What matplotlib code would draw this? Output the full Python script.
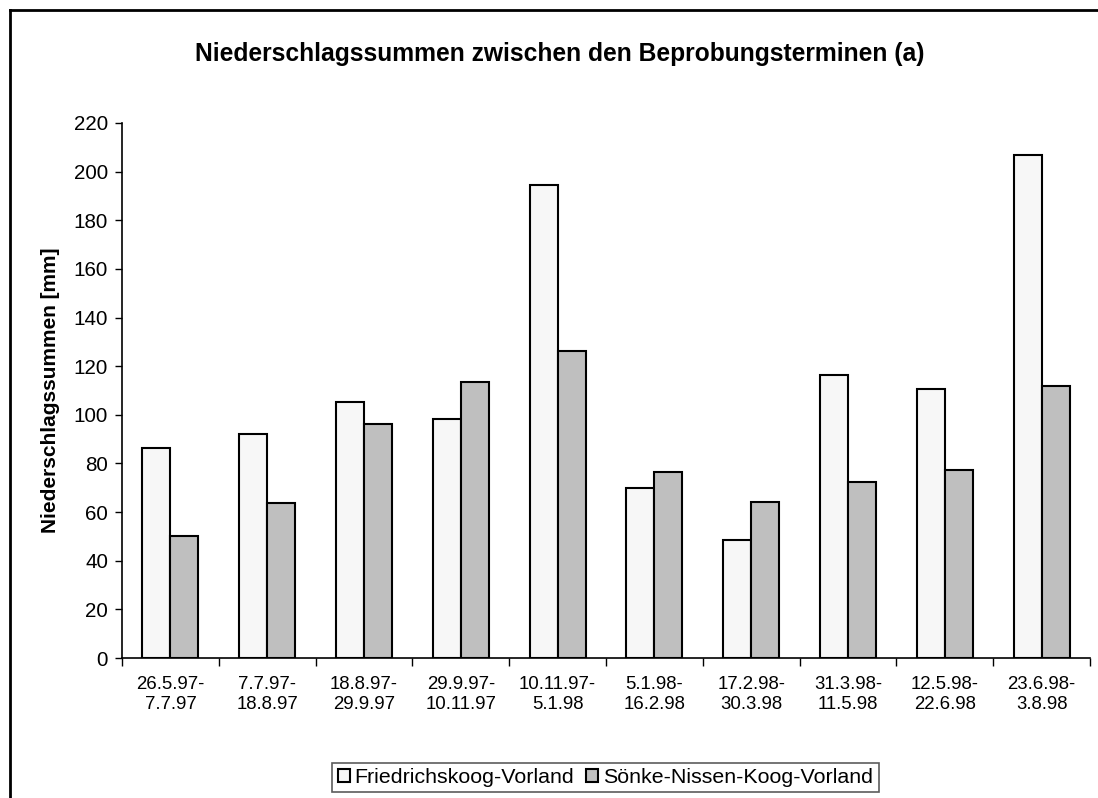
import numpy as np
import matplotlib
matplotlib.use('Agg')
import matplotlib.pyplot as plt
from matplotlib.lines import Line2D
from matplotlib.ticker import FixedLocator, NullFormatter

plt.rcParams['font.family'] = ['Liberation Sans', 'DejaVu Sans']

# intervals between sampling dates
periods = ['26.5.97-\n7.7.97', '7.7.97-\n18.8.97', '18.8.97-\n29.9.97', '29.9.97-\n10.11.97',
           '10.11.97-\n5.1.98', '5.1.98-\n16.2.98', '17.2.98-\n30.3.98', '31.3.98-\n11.5.98',
           '12.5.98-\n22.6.98', '23.6.98-\n3.8.98']
friedrichskoog = [86.4, 92.2, 105.2, 98.2, 194.3, 70.0, 48.6, 116.3, 110.8, 206.8]
soenke_nissen = [50.2, 63.6, 96.2, 113.5, 126.1, 76.6, 64.1, 72.3, 77.2, 111.8]
series_names = ['Friedrichskoog-Vorland', 'Sönke-Nissen-Koog-Vorland']

fig = plt.figure(figsize=(10.98, 7.98), dpi=100)
ax = fig.add_axes([122 / 1098, 1 - 658 / 798, 968 / 1098, 535 / 798])

x = np.arange(len(periods))
w = 0.29
ax.bar(x - w / 2, friedrichskoog, width=w, color='#f7f7f7', edgecolor='black',
       linewidth=1.5, label=series_names[0])
ax.bar(x + w / 2, soenke_nissen, width=w, color='#bfbfbf', edgecolor='black',
       linewidth=1.5, label=series_names[1])

ax.set_xlim(-0.5, len(periods) - 0.5)
ax.set_ylim(0, 220)
ax.set_yticks(np.arange(0, 221, 20))
ax.tick_params(axis='y', labelsize=14.9, length=5, width=1, pad=5)

# category labels centered, tick marks on the boundaries
ax.set_xticks(x)
ax.set_xticklabels(periods, fontsize=13.4, linespacing=1.25)
ax.tick_params(axis='x', which='major', length=0, pad=13)
ax.xaxis.set_minor_locator(FixedLocator(np.arange(-0.5, len(periods), 1.0)))
ax.xaxis.set_minor_formatter(NullFormatter())
ax.tick_params(axis='x', which='minor', length=6, width=1, direction='out')

for s in ['top', 'right']:
    ax.spines[s].set_visible(False)
for s in ['left', 'bottom']:
    ax.spines[s].set_linewidth(1.2)

ax.set_ylabel('Niederschlagssummen [mm]', fontsize=15, fontweight='bold', labelpad=10)
fig.text(560 / 1098, 1 - 54 / 798, 'Niederschlagssummen zwischen den Beprobungsterminen (a)',
         ha='center', va='center', fontsize=17.7, fontweight='bold')

leg = fig.legend(loc='center', bbox_to_anchor=(605.5 / 1098, 1 - 777.5 / 798), ncol=2,
                 fontsize=15.4, frameon=True, fancybox=False, edgecolor='#333333',
                 handlelength=0.56, handleheight=0.56, handletextpad=0.23,
                 columnspacing=0.56, borderpad=0.25, borderaxespad=0)
leg.get_frame().set_linewidth(1.2)

# outer chart border (left and top visible)
fig.add_artist(Line2D([10 / 1098, 10 / 1098], [0, 1 - 10 / 798], color='black',
                      linewidth=2, transform=fig.transFigure))
fig.add_artist(Line2D([10 / 1098, 1], [1 - 10 / 798, 1 - 10 / 798], color='black',
                      linewidth=2, transform=fig.transFigure))

fig.savefig('out.png', dpi=100)
